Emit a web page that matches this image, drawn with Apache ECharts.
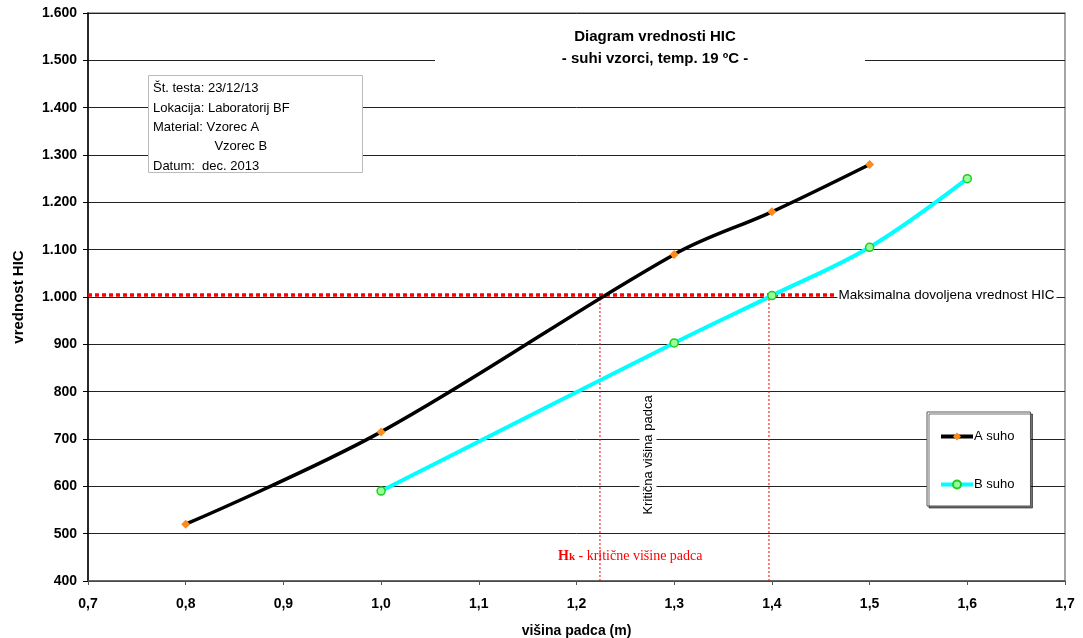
<!DOCTYPE html>
<html>
<head>
<meta charset="utf-8">
<script src="https://cdn.jsdelivr.net/npm/echarts@6/dist/echarts.min.js"></script>
<style>
  html, body { margin: 0; padding: 0; background: #fff; }
  #chart { width: 1083px; height: 638px; }
</style>
</head>
<body>
<div id="chart"></div>
<script>
// visina padca (m) / HIC
var visinaA = [0.8, 1.0, 1.3, 1.4, 1.5];
var hicA = [520, 715, 1090, 1180, 1280];
var visinaB = [1.0, 1.3, 1.4, 1.5, 1.6];
var hicB = [590, 903, 1003, 1105, 1250];

var mejaHIC = 1004;
var mejaOd = 0.7, mejaDo = 1.465;
var kriticneVisine = [1.224, 1.397];

var infoVrstice = ['Št. testa: 23/12/13', 'Lokacija: Laboratorij BF', 'Material: Vzorec A', '                 Vzorec B', 'Datum:  dec. 2013'];

var font = '"Liberation Sans", Arial, sans-serif';

function pari(xs, ys) {
    var out = [];
    for (var i = 0; i < xs.length; i++) out.push([xs[i], ys[i]]);
    return out;
}

var myChart = echarts.init(document.getElementById('chart'));

var serije = [
    {
        name: 'A suho',
        type: 'line',
        smooth: 0.35,
        data: pari(visinaA, hicA),
        symbol: 'diamond',
        symbolSize: 9,
        lineStyle: { color: '#000', width: 3.5 },
        itemStyle: { color: '#ff8c1a', borderColor: '#ff8c1a', borderWidth: 0 },
        z: 4
    },
    {
        name: 'B suho',
        type: 'line',
        smooth: 0.35,
        data: pari(visinaB, hicB),
        symbol: 'circle',
        symbolSize: 8,
        lineStyle: { color: '#00ffff', width: 4 },
        itemStyle: { color: '#99ff99', borderColor: '#22cc22', borderWidth: 1.5 },
        z: 4
    },
    {
        name: 'meja',
        type: 'line',
        symbol: 'none',
        data: [[mejaOd, mejaHIC], [mejaDo, mejaHIC]],
        lineStyle: { color: '#ff0000', width: 3.5, type: [4, 3] },
        endLabel: {
            show: true,
            formatter: 'Maksimalna dovoljena vrednost HIC',
            color: '#000',
            fontFamily: font,
            fontSize: 13.5,
            distance: 2,
            backgroundColor: '#fff',
            padding: [1, 2, 1, 1]
        },
        z: 3,
        silent: true
    }
];

kriticneVisine.forEach(function (v) {
    serije.push({
        name: 'krit',
        type: 'line',
        symbol: 'none',
        data: [[v, 400], [v, 1000]],
        lineStyle: { color: '#ff0000', width: 1, type: [2, 2] },
        z: 3,
        silent: true
    });
});

var option = {
    backgroundColor: '#fff',
    animation: false,
    textStyle: { fontFamily: font },
    title: {
        text: 'Diagram vrednosti HIC\n- suhi vzorci, temp. 19 ºC -',
        left: 650,
        top: 21,
        textAlign: 'center',
        textStyle: { fontFamily: font, fontSize: 15, fontWeight: 'bold', color: '#000', lineHeight: 22 },
        z: 10
    },
    grid: {
        left: 88, right: 18, top: 13, bottom: 57,
        outerBoundsMode: 'none',
        containLabel: false,
        show: true,
        borderColor: '#888',
        borderWidth: 1.5,
        backgroundColor: 'transparent'
    },
    legend: {
        data: [
            { name: 'A suho', lineStyle: { width: 4 } },
            { name: 'B suho', lineStyle: { width: 4 } }
        ],
        orient: 'vertical',
        left: 927,
        top: 412,
        itemWidth: 32,
        itemHeight: 10,
        itemGap: 35,
        padding: [18, 16, 15, 12],
        backgroundColor: '#fff',
        borderColor: '#555',
        borderWidth: 1,
        shadowColor: 'rgba(0,0,0,0.55)',
        shadowOffsetX: 2,
        shadowOffsetY: 2,
        shadowBlur: 0,
        textStyle: { fontFamily: font, fontSize: 13, color: '#000', padding: [0, 0, 0, -4] },
        z: 10
    },
    xAxis: {
        type: 'value',
        min: 0.7,
        max: 1.7,
        interval: 0.1,
        name: 'višina padca (m)',
        nameLocation: 'middle',
        nameGap: 43,
        nameTextStyle: { fontFamily: font, fontSize: 14, fontWeight: 'bold', color: '#000' },
        axisLine: { show: true, lineStyle: { color: '#555', width: 1.5 } },
        axisTick: { show: true, inside: false, length: 4, lineStyle: { color: '#555' } },
        splitLine: { show: false },
        axisLabel: {
            margin: 16,
            fontFamily: font,
            fontSize: 14,
            fontWeight: 'bold',
            color: '#000',
            formatter: function (v) { return v.toFixed(1).replace('.', ','); }
        }
    },
    yAxis: {
        type: 'value',
        min: 400,
        max: 1600,
        interval: 100,
        name: 'vrednost HIC',
        nameLocation: 'middle',
        nameGap: 62,
        nameTextStyle: { fontFamily: font, fontSize: 15, fontWeight: 'bold', color: '#000' },
        axisLine: { show: true, lineStyle: { color: '#000', width: 1.5 } },
        axisTick: { show: true, inside: false, length: 5, lineStyle: { color: '#000' } },
        splitLine: { show: true, lineStyle: { color: '#222', width: 1 } },
        axisLabel: {
            margin: 11,
            fontFamily: font,
            fontSize: 14,
            fontWeight: 'bold',
            color: '#000',
            formatter: function (v) {
                return v >= 1000 ? Math.floor(v / 1000) + '.' + ('00' + (v % 1000)).slice(-3) : String(v);
            }
        }
    },
    graphic: [
        // ozadje naslova
        { type: 'rect', left: 435, top: 18, shape: { width: 430, height: 50 }, style: { fill: '#fff' }, z: 5 },
        // info okvir
        { type: 'rect', left: 148, top: 75, shape: { width: 214, height: 97 }, style: { fill: '#fff', stroke: '#bbb', lineWidth: 1 }, z: 5 },
        {
            type: 'text', left: 153, top: 79, z: 6,
            style: { text: infoVrstice.join('\n'), font: '13px ' + font, fill: '#000', lineHeight: 19.4 }
        },
        // navpicni napis
        {
            type: 'text', x: 648, y: 455, rotation: Math.PI / 2, z: 5,
            style: {
                text: 'Kritična višina padca', font: '13px ' + font, fill: '#000',
                align: 'center', verticalAlign: 'middle',
                backgroundColor: '#fff', padding: [2, 2, 2, 2]
            }
        },
        {
            type: 'text', x: 558, y: 556, z: 5,
            style: {
                text: '{h|H}{k|k}{t| - kritične višine padca}',
                verticalAlign: 'middle',
                rich: {
                    h: { font: 'bold 14px "Liberation Serif", "DejaVu Serif", serif', fill: '#ff0000' },
                    k: { font: 'bold 11px "Liberation Serif", "DejaVu Serif", serif', fill: '#ff0000', padding: [3, 0, 0, 0] },
                    t: { font: '14px "Liberation Serif", "DejaVu Serif", serif', fill: '#ff0000' }
                }
            }
        }
    ],
    series: serije
};

myChart.setOption(option);
</script>
</body>
</html>
